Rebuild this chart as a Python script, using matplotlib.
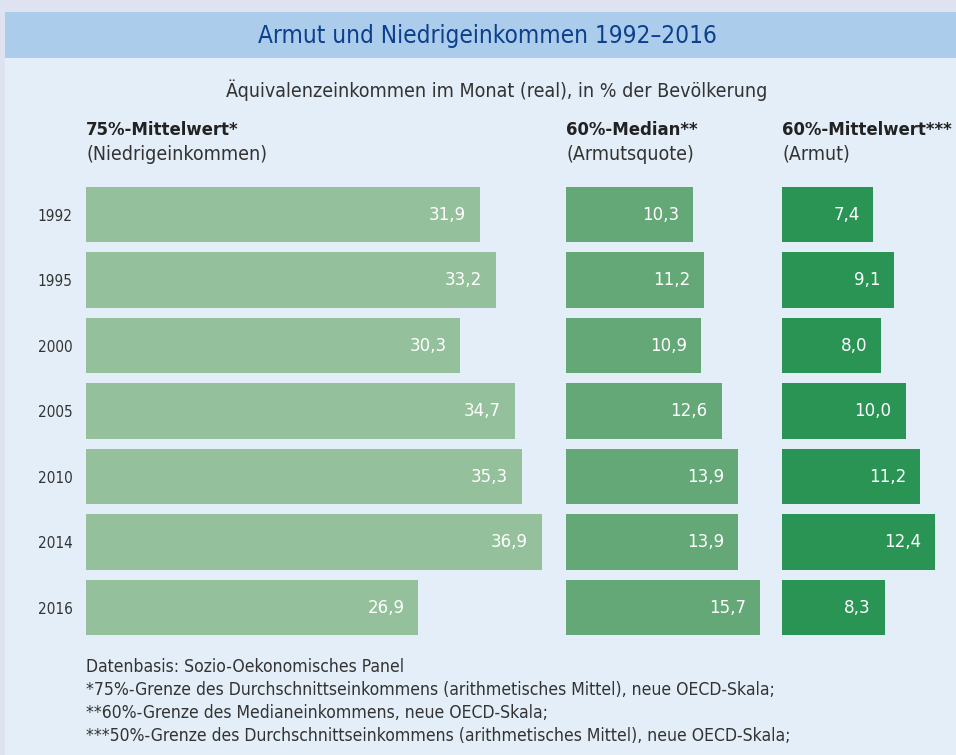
import matplotlib.pyplot as plt
from matplotlib.patches import Rectangle

years = ['1992', '1995', '2000', '2005', '2010', '2014', '2016']
mittelwert_75 = [31.9, 33.2, 30.3, 34.7, 35.3, 36.9, 26.9]
median_60 = [10.3, 11.2, 10.9, 12.6, 13.9, 13.9, 15.7]
mittelwert_60 = [7.4, 9.1, 8.0, 10.0, 11.2, 12.4, 8.3]

headers = [('75%-Mittelwert*', '(Niedrigeinkommen)'),
           ('60%-Median**', '(Armutsquote)'),
           ('60%-Mittelwert***', '(Armut)')]
footnotes = [
    'Datenbasis: Sozio-Oekonomisches Panel',
    '*75%-Grenze des Durchschnittseinkommens (arithmetisches Mittel), neue OECD-Skala;',
    '**60%-Grenze des Medianeinkommens, neue OECD-Skala;',
    '***50%-Grenze des Durchschnittseinkommens (arithmetisches Mittel), neue OECD-Skala;',
]

plt.rcParams['font.family'] = 'DejaVu Sans'
plt.rcParams['font.stretch'] = 'condensed'

W, H = 956, 755
fig = plt.figure(figsize=(W / 100, H / 100), dpi=100)

def fx(px):
    return px / W

def fy(py):
    return 1 - py / H

# backgrounds
fig.patch.set_facecolor('#dfe3f1')
fig.patches.append(Rectangle((fx(5), 0), 1, fy(12), transform=fig.transFigure,
                             facecolor='#e3eef8', edgecolor='none', zorder=-2))
fig.patches.append(Rectangle((fx(5), fy(58)), 1, fy(12) - fy(58), transform=fig.transFigure,
                             facecolor='#abcdeb', edgecolor='none', zorder=-1))

fig.text(fx(487), fy(36), 'Armut und Niedrigeinkommen 1992–2016', ha='center', va='center',
         fontsize=17.5, color='#0d3f8c')
fig.text(fx(497), fy(90), 'Äquivalenzeinkommen im Monat (real), in % der Bevölkerung',
         ha='center', va='center', fontsize=14, color='#333333')

scale = 12.35  # px per percentage point
sections = [(86, 38, mittelwert_75, '#94c19b'),
            (566, 16, median_60, '#64a877'),
            (782, 14, mittelwert_60, '#2a9455')]

top_px, bot_px = 181.75, 640.25
for i, (x0, xmax, vals, col) in enumerate(sections):
    ax = fig.add_axes([fx(x0), fy(bot_px), fx(xmax * scale), fy(top_px) - fy(bot_px)])
    ax.set_facecolor('none')
    ax.barh(range(len(years)), vals, height=0.84, color=col)
    ax.set_xlim(0, xmax)
    ax.set_ylim(len(years) - 0.5, -0.5)
    for s in ax.spines.values():
        s.set_visible(False)
    ax.set_xticks([])
    if i == 0:
        ax.set_yticks(range(len(years)))
        ax.set_yticklabels(years, fontsize=11, color='#333333')
        ax.tick_params(axis='y', length=0, pad=9.5)
    else:
        ax.set_yticks([])
    for j, v in enumerate(vals):
        ax.annotate(f'{v:.1f}'.replace('.', ','), (v, j), xytext=(-10, 0),
                    textcoords='offset points', ha='right', va='center',
                    fontsize=13.3, color='white')
    fig.text(fx(x0), fy(130), headers[i][0], ha='left', va='center', fontsize=13.2,
             fontweight='bold', color='#222222')
    fig.text(fx(x0), fy(154), headers[i][1], ha='left', va='center', fontsize=14,
             color='#333333')

for k, line in enumerate(footnotes):
    fig.text(fx(86), fy(667 + k * 23), line, ha='left', va='center', fontsize=12.6,
             color='#333333')

fig.savefig('out.png', dpi=100)
